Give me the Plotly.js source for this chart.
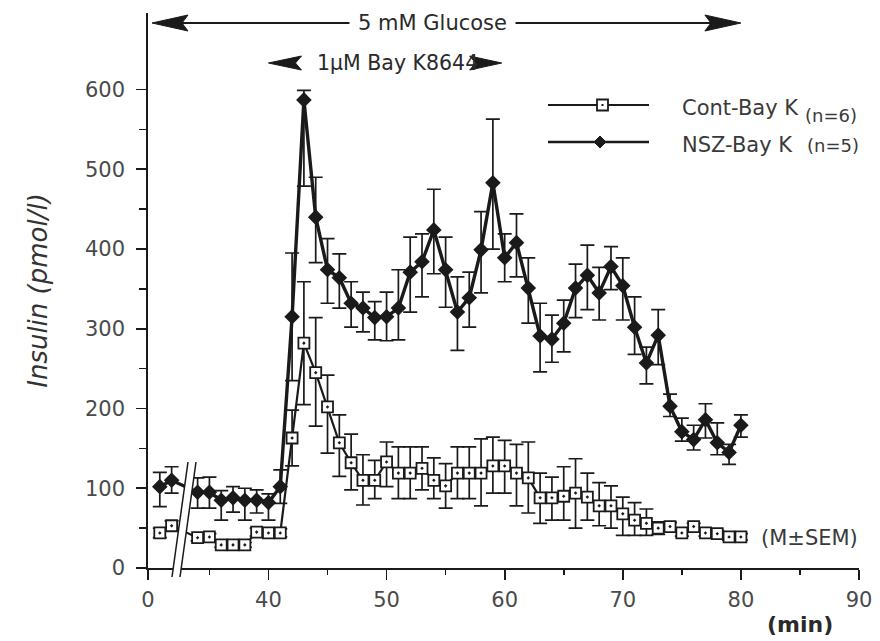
<!DOCTYPE html>
<html>
<head>
<meta charset="utf-8">
<script src="https://cdn.plot.ly/plotly-3.0.1.min.js"></script>
<style>html,body{margin:0;padding:0;background:#fff;}#chart{width:880px;height:641px;}</style>
</head>
<body>
<div id="chart"></div>
<script>
// ---------------- data ----------------
const timeMin = [1, 2, 34, 35, 36, 37, 38, 39, 40, 41, 42, 43, 44, 45, 46, 47, 48, 49, 50,
  51, 52, 53, 54, 55, 56, 57, 58, 59, 60, 61, 62, 63, 64, 65, 66, 67, 68, 69, 70,
  71, 72, 73, 74, 75, 76, 77, 78, 79, 80];

const contMean = [44, 53, 38, 39, 29, 29, 29, 45, 44, 44, 163, 282, 245, 202, 157, 132, 110, 110, 133,
  119, 119, 125, 110, 103, 119, 119, 119, 128, 128, 119, 113, 88, 88, 90, 94, 89, 78, 78, 68,
  60, 56, 50, 52, 44, 52, 44, 43, 39, 39];
const contSemUp = [6, 6, 4, 4, 3, 3, 3, 5, 5, 5, 35, 77, 69, 40, 35, 36, 32, 25, 25,
  33, 33, 27, 28, 28, 33, 33, 43, 36, 32, 36, 45, 31, 26, 37, 43, 30, 29, 25, 21,
  22, 18, 8, 5, 4, 4, 4, 4, 4, 4];
const contSemDown = [6, 6, 4, 4, 3, 3, 3, 5, 5, 5, 35, 77, 67, 58, 42, 34, 31, 23, 31,
  32, 32, 27, 23, 28, 32, 32, 41, 34, 34, 41, 44, 32, 28, 30, 44, 29, 25, 28, 27,
  19, 15, 8, 5, 4, 4, 4, 4, 4, 4];

const nszMean = [102, 110, 95, 95, 85, 88, 85, 85, 82, 102, 315, 587, 440, 374, 364, 332, 326, 314, 315,
  326, 371, 384, 424, 374, 321, 339, 399, 483, 389, 408, 351, 291, 287, 307, 351, 367, 345, 378, 354,
  302, 257, 292, 203, 171, 161, 186, 157, 145, 179];
const nszSemUp = [18, 17, 18, 19, 12, 14, 15, 13, 11, 21, 80, 12, 50, 39, 30, 27, 20, 20, 31,
  48, 44, 35, 51, 41, 44, 32, 48, 80, 30, 36, 38, 41, 30, 29, 30, 38, 32, 25, 35,
  38, 20, 32, 15, 17, 18, 20, 25, 10, 13];
const nszSemDown = [25, 16, 20, 20, 25, 18, 25, 16, 22, 21, 80, 108, 57, 42, 38, 30, 30, 28, 30,
  40, 50, 44, 55, 47, 48, 37, 54, 83, 30, 43, 44, 45, 29, 36, 37, 43, 34, 29, 43,
  34, 26, 37, 13, 12, 13, 23, 15, 15, 15];

const seriesNames = ['Cont-Bay K', 'NSZ-Bay K'];
const seriesN = ['(n=6)', '(n=5)'];

const xTickMinutes = [0, 40, 50, 60, 70, 80, 90];
const xTickText = ['0', '40', '50', '60', '70', '80', '90'];
const xMinorMinutes = [35, 45, 55, 65, 75, 85];
const yTickVals = [0, 100, 200, 300, 400, 500, 600];
const yMinorVals = [50, 150, 250, 350, 450, 550];

const glucosePeriod = [0, 80];   // minutes, "5 mM Glucose"
const bayKPeriod = [40, 60];     // minutes, "1 µM Bay K8644"

// ---------------- geometry ----------------
const W = 880, H = 641;
const M = {l: 148, r: 21, t: 13, b: 73};
const PW = W - M.l - M.r, PH = H - M.t - M.b;
const BREAK_SHIFT = 29.8;              // broken time axis: 0..~3 min, then 35..90 min
const brk = t => (t < 20 ? t : t - BREAK_SHIFT);
const xMax = brk(90), yMax = 696;
const xp = t => brk(t) / xMax;         // minutes -> paper
const yp = v => v / yMax;              // insulin -> paper
const X = px => (px - M.l) / PW;       // pixel -> paper
const Y = py => (H - M.b - py) / PH;
const dX = px => px / PW, dY = px => px / PH;

const INK = '#1a1a1a';
const FONT = 'DejaVu Sans';

const xs = timeMin.map(brk);

const traces = [
  {
    x: xs, y: contMean, name: seriesNames[0], type: 'scatter', mode: 'lines+markers',
    line: {color: INK, width: 2.2},
    marker: {symbol: 'square-dot', size: 11, color: '#ffffff', line: {color: INK, width: 1.8}},
    error_y: {type: 'data', symmetric: false, array: contSemUp, arrayminus: contSemDown,
      color: INK, thickness: 1.7, width: 7},
    showlegend: false, cliponaxis: false
  },
  {
    x: xs, y: nszMean, name: seriesNames[1], type: 'scatter', mode: 'lines+markers',
    line: {color: INK, width: 3.4},
    marker: {symbol: 'diamond', size: 12, color: INK},
    error_y: {type: 'data', symmetric: false, array: nszSemUp, arrayminus: nszSemDown,
      color: INK, thickness: 1.7, width: 7},
    showlegend: false, cliponaxis: false
  }
];

// ---------------- decorations ----------------
const shapes = [];
const annotations = [];

function arrowHead(tipX, tipY, dir, lenPx, halfPx) {
  // dir = -1 points left, +1 points right (tip coordinates in paper)
  const bx = tipX - dir * dX(lenPx);
  shapes.push({
    type: 'path', xref: 'paper', yref: 'paper', layer: 'above',
    path: `M ${tipX} ${tipY} L ${bx} ${tipY + dY(halfPx)} L ${bx + dir * dX(6)} ${tipY} L ${bx} ${tipY - dY(halfPx)} Z`,
    fillcolor: INK, line: {color: INK, width: 1}
  });
}

// Glucose double arrow
const gy = Y(23);
const gL = xp(glucosePeriod[0]) + dX(4), gR = xp(glucosePeriod[1]);
shapes.push({type: 'line', xref: 'paper', yref: 'paper', layer: 'above',
  x0: gL + dX(20), x1: gR - dX(20), y0: gy, y1: gy, line: {color: INK, width: 2}});
arrowHead(gL, gy, -1, 36, 8);
arrowHead(gR, gy, 1, 36, 8);
annotations.push({xref: 'paper', yref: 'paper', x: X(432), y: gy, text: '5 mM Glucose',
  showarrow: false, xanchor: 'center', yanchor: 'middle', bgcolor: '#ffffff', borderpad: 8,
  font: {family: FONT, size: 21, color: '#2a2a2a'}});

// Bay K arrow
const by = Y(63);
arrowHead(xp(bayKPeriod[0]), by, -1, 33, 7);
arrowHead(xp(bayKPeriod[1]) - dX(3), by, 1, 32, 7);
annotations.push({xref: 'paper', yref: 'paper', x: X(397), y: by, text: '1µM Bay K8644',
  showarrow: false, xanchor: 'center', yanchor: 'middle',
  font: {family: FONT, size: 20.5, color: '#2a2a2a'}});

// axis break  //
const bBot = Y(577), bTop = Y(462);
const a0 = X(172), a1 = X(188), sep = dX(8);
shapes.push({type: 'path', xref: 'paper', yref: 'paper', layer: 'above',
  path: `M ${a0} ${bBot} L ${a1} ${bTop} L ${a1 + sep} ${bTop} L ${a0 + sep} ${bBot} Z`,
  fillcolor: '#ffffff', line: {width: 0}});
[0, sep].forEach(o => shapes.push({type: 'line', xref: 'paper', yref: 'paper', layer: 'above',
  x0: a0 + o, y0: bBot, x1: a1 + o, y1: bTop, line: {color: INK, width: 1.5}}));

// manual legend
const legY = [105, 142];
legY.forEach((py, i) => {
  shapes.push({type: 'line', xref: 'paper', yref: 'paper', layer: 'above',
    x0: X(548), x1: X(649), y0: Y(py), y1: Y(py), line: {color: INK, width: i === 0 ? 1.8 : 2.4}});
});
// square sample
shapes.push({type: 'rect', xref: 'paper', yref: 'paper', layer: 'above',
  x0: X(597), x1: X(608), y0: Y(110.5), y1: Y(99.5), fillcolor: '#ffffff', line: {color: INK, width: 1.8}});
shapes.push({type: 'rect', xref: 'paper', yref: 'paper', layer: 'above',
  x0: X(601.5), x1: X(603.5), y0: Y(106), y1: Y(104), fillcolor: INK, line: {width: 0}});
// diamond sample
shapes.push({type: 'path', xref: 'paper', yref: 'paper', layer: 'above',
  path: `M ${X(594)} ${Y(142)} L ${X(600)} ${Y(136)} L ${X(606)} ${Y(142)} L ${X(600)} ${Y(148)} Z`,
  fillcolor: INK, line: {color: INK, width: 1}});

const LEGF = {family: FONT, size: 21, color: '#3a3a3a'};
const LEGN = {family: FONT, size: 18, color: '#3a3a3a'};
annotations.push({xref: 'paper', yref: 'paper', x: X(680), y: Y(108), text: seriesNames[0],
  showarrow: false, xanchor: 'left', yanchor: 'middle', font: LEGF});
annotations.push({xref: 'paper', yref: 'paper', x: X(803), y: Y(115), text: seriesN[0],
  showarrow: false, xanchor: 'left', yanchor: 'middle', font: LEGN});
annotations.push({xref: 'paper', yref: 'paper', x: X(680), y: Y(145), text: seriesNames[1],
  showarrow: false, xanchor: 'left', yanchor: 'middle', font: LEGF});
annotations.push({xref: 'paper', yref: 'paper', x: X(805), y: Y(145), text: seriesN[1],
  showarrow: false, xanchor: 'left', yanchor: 'middle', font: LEGN});

annotations.push({xref: 'paper', yref: 'paper', x: X(759), y: Y(538), text: '(M±SEM)',
  showarrow: false, xanchor: 'left', yanchor: 'middle', font: {family: FONT, size: 21, color: '#3a3a3a'}});
annotations.push({xref: 'paper', yref: 'paper', x: X(800), y: Y(624), text: '<b>(min)</b>',
  showarrow: false, xanchor: 'center', yanchor: 'middle', font: {family: FONT, size: 22, color: '#2a2a2a'}});

const layout = {
  width: W, height: H,
  margin: M,
  paper_bgcolor: '#ffffff', plot_bgcolor: '#ffffff',
  showlegend: false,
  font: {family: FONT, color: '#444'},
  xaxis: {
    range: [0, xMax], showgrid: false, zeroline: false,
    showline: true, linecolor: INK, linewidth: 1.7,
    ticks: 'outside', ticklen: 10, tickwidth: 1.7, tickcolor: INK,
    tickmode: 'array', tickvals: xTickMinutes.map(brk), ticktext: xTickText,
    minor: {tickmode: 'array', tickvals: xMinorMinutes.map(brk), ticks: 'outside', ticklen: 5, tickwidth: 1.7, tickcolor: INK, showgrid: false},
    tickfont: {family: FONT, size: 21, color: '#4a4a4a'},
    ticklabelstandoff: 2
  },
  yaxis: {
    range: [0, yMax], showgrid: false, zeroline: false,
    showline: true, linecolor: INK, linewidth: 1.7,
    ticks: 'outside', ticklen: 10, tickwidth: 1.7, tickcolor: INK,
    tickmode: 'array', tickvals: yTickVals,
    minor: {tickmode: 'array', tickvals: yMinorVals, ticks: 'outside', ticklen: 7, tickwidth: 1.7, tickcolor: INK, showgrid: false},
    tickfont: {family: FONT, size: 21, color: '#4a4a4a'},
    ticklabelstandoff: 7,
    title: {text: '<i>Insulin (pmol/l)</i>', font: {family: FONT, size: 26, color: '#333'}, standoff: 30}
  },
  shapes: shapes,
  annotations: annotations
};

Plotly.newPlot('chart', traces, layout, {staticPlot: true, displayModeBar: false});
</script>
</body>
</html>
